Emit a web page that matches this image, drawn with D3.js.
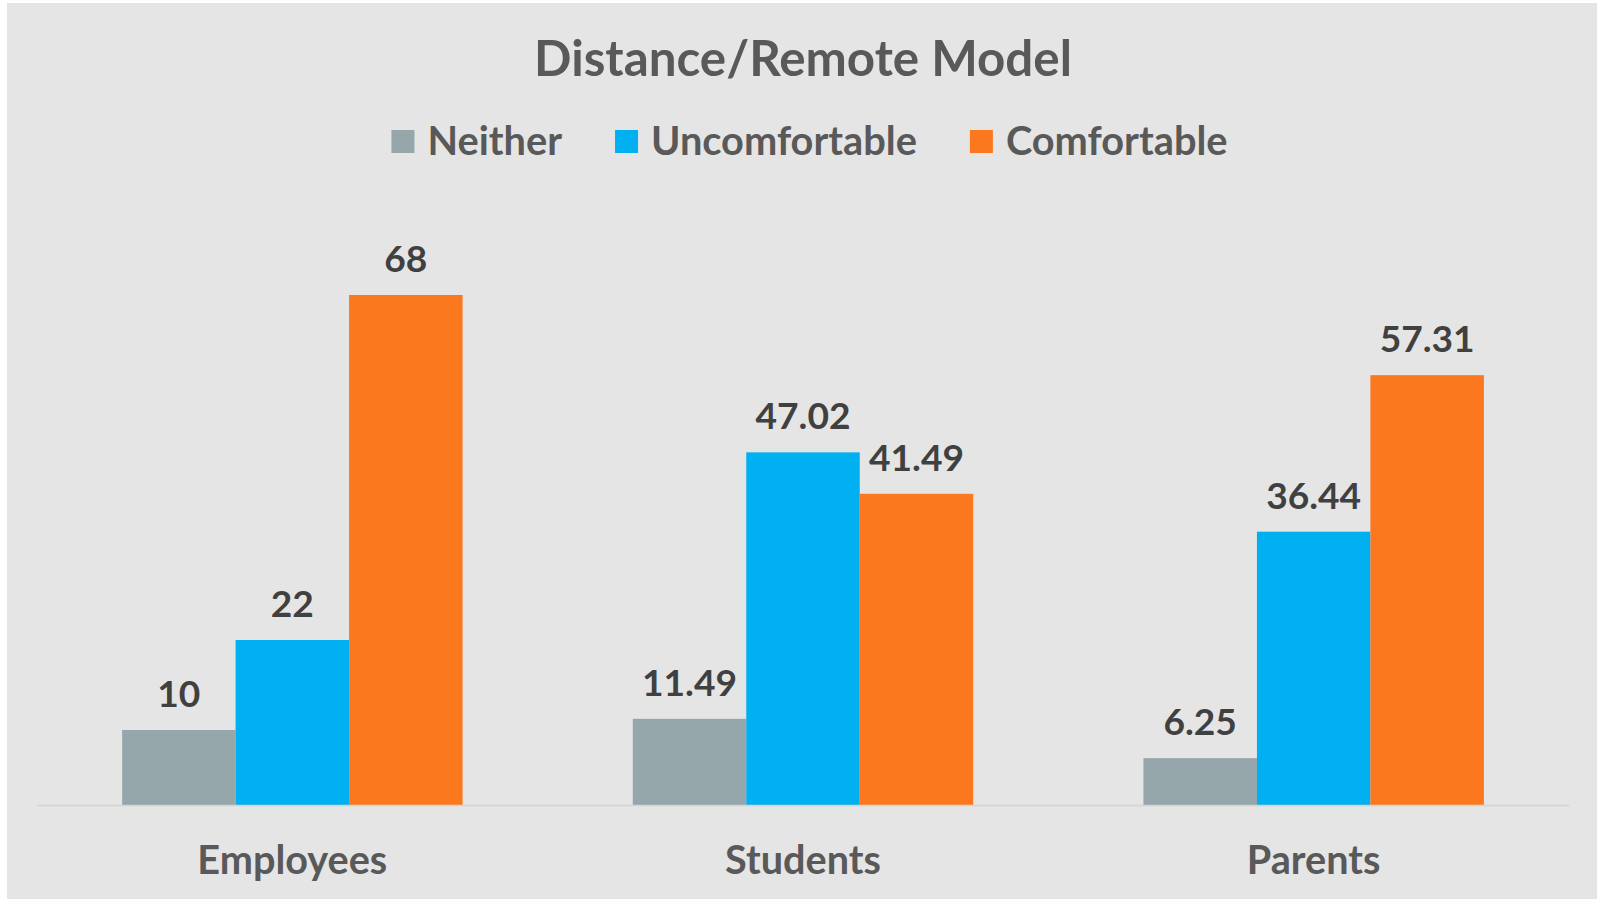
<!DOCTYPE html>
<html>
<head>
<meta charset="utf-8">
<script src="https://cdn.jsdelivr.net/npm/d3@7"></script>
<style>
  html, body { margin: 0; padding: 0; background: #ffffff; }
  svg { display: block; }
  text { font-family: Lato, "Open Sans", sans-serif; font-weight: 700; }
</style>
</head>
<body>
<svg id="chart" width="1597" height="899"></svg>
<script>
// ---- data ----
const title = "Distance/Remote Model";
const categories = ["Employees", "Students", "Parents"];
const seriesNames = ["Neither", "Uncomfortable", "Comfortable"];
const neither = [10, 11.49, 6.25];
const uncomfortable = [22, 47.02, 36.44];
const comfortable = [68, 41.49, 57.31];
const valueLabels = [["10", "11.49", "6.25"], ["22", "47.02", "36.44"], ["68", "41.49", "57.31"]];
const seriesValues = [neither, uncomfortable, comfortable];
const colors = ["#95a7ab", "#00b0f0", "#fb781e"];

// ---- layout ----
const W = 1597, H = 899;
const svg = d3.select("#chart");
svg.append("rect").attr("x", 7).attr("y", 3).attr("width", W - 7).attr("height", H - 3).attr("fill", "#e5e5e5");

const plotLeft = 37, plotRight = 1569, baseY = 805, topY = 205;
const x0 = d3.scaleBand().domain(categories).range([plotLeft, plotRight]).paddingInner(0).paddingOuter(0);
const groupW = x0.bandwidth() * 3 / 4.5;
const x1 = d3.scaleBand().domain(seriesNames).range([0, groupW]).padding(0);
const y = d3.scaleLinear().domain([0, 80]).range([baseY, topY]);

function fit(sel, target) {
  // adjust font-size so that the text width equals target
  const node = sel.node();
  const fs = parseFloat(sel.attr("font-size"));
  const w = node.getComputedTextLength();
  const nfs = fs * target / w;
  sel.attr("font-size", nfs);
  return nfs;
}

// title
const t = svg.append("text").attr("x", 803).attr("y", 76).attr("text-anchor", "middle")
  .attr("fill", "#595959").attr("font-size", 40).text(title);
fit(t, 538);

// bars
const groups = svg.append("g").selectAll("g").data(categories).join("g")
  .attr("transform", d => `translate(${x0(d) + (x0.bandwidth() - groupW) / 2},0)`);

seriesNames.forEach((s, si) => {
  groups.append("rect")
    .attr("x", x1(s))
    .attr("width", x1.bandwidth())
    .attr("y", (d, ci) => y(seriesValues[si][ci]))
    .attr("height", (d, ci) => baseY - y(seriesValues[si][ci]))
    .attr("fill", colors[si]);
});

// axis line
svg.append("line").attr("x1", plotLeft).attr("x2", plotRight).attr("y1", baseY + 0.5).attr("y2", baseY + 0.5)
  .attr("stroke", "#d4d4d4").attr("stroke-width", 1.5);

// value labels
const probe = svg.append("text").attr("font-size", 36).text("47.02");
const valFs = fit(probe, 95);
probe.remove();
seriesNames.forEach((s, si) => {
  groups.append("text")
    .attr("x", x1(s) + x1.bandwidth() / 2)
    .attr("y", (d, ci) => y(seriesValues[si][ci]) - 23)
    .attr("text-anchor", "middle")
    .attr("fill", "#404040")
    .attr("font-size", valFs)
    .text((d, ci) => valueLabels[si][ci]);
});

// category labels
const probe2 = svg.append("text").attr("font-size", 32).text("Employees");
const catFs = fit(probe2, 190);
probe2.remove();
svg.append("g").selectAll("text").data(categories).join("text")
  .attr("x", d => x0(d) + x0.bandwidth() / 2)
  .attr("y", 874)
  .attr("text-anchor", "middle")
  .attr("fill", "#595959")
  .attr("font-size", catFs)
  .text(d => d);

// legend
const probe3 = svg.append("text").attr("font-size", 32).text("Uncomfortable");
const legFs = fit(probe3, 266);
probe3.remove();
const sq = 23, sqGap = 13, itemGap = 53;
const leg = svg.append("g");
let cx = 0;
const items = [];
seriesNames.forEach((s, i) => {
  const g = leg.append("g").attr("transform", `translate(${cx},0)`);
  g.append("rect").attr("x", 0).attr("y", 130).attr("width", sq).attr("height", sq).attr("fill", colors[i]);
  const tx = g.append("text").attr("x", sq + sqGap).attr("y", 155).attr("fill", "#595959")
    .attr("font-size", legFs).text(s);
  cx += sq + sqGap + tx.node().getComputedTextLength() + itemGap;
});
const legW = cx - itemGap;
leg.attr("transform", `translate(${809.5 - legW / 2},0)`);
</script>
</body>
</html>
